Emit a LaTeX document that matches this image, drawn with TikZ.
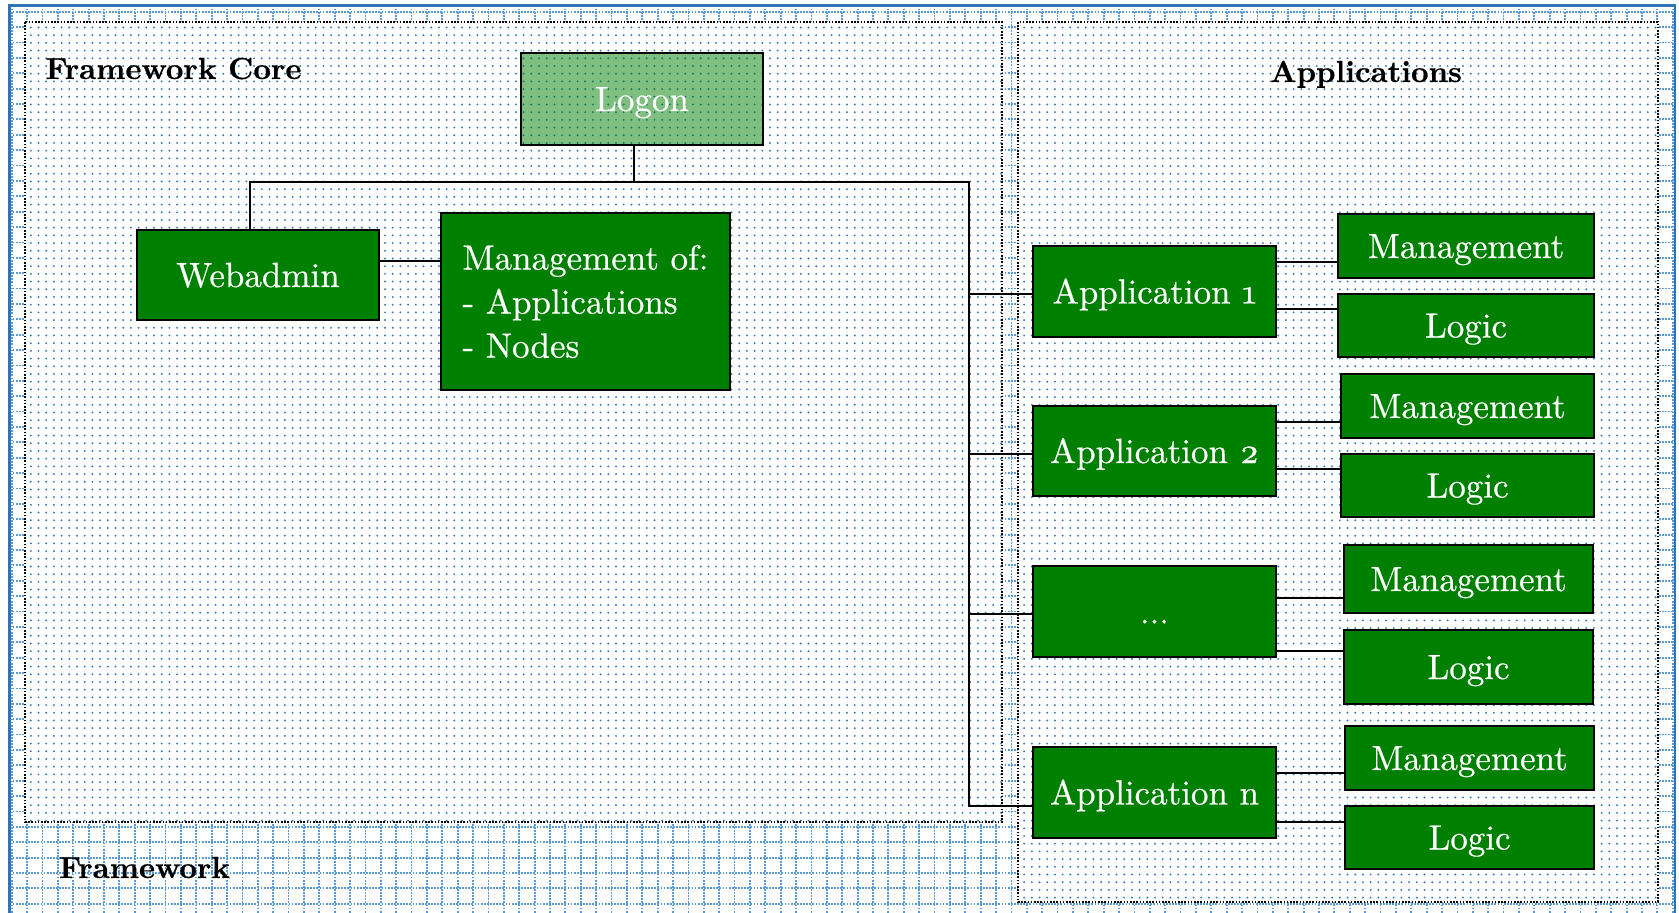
\documentclass[tikz,border=0pt]{standalone}
\usepackage{fontspec}
\newfontfamily\boxfont{lmroman10-regular}[Extension=.otf, FakeBold=0.5]
\newfontfamily\titlefont{lmroman10-bold}[Extension=.otf, FakeBold=0.4]
\newcommand\osn[1]{{\addfontfeatures{Numbers=OldStyle}#1}}
\usetikzlibrary{patterns.meta}
\definecolor{gr}{RGB}{0,128,0}
\definecolor{gridblue}{RGB}{91,155,213}
\definecolor{dotblue}{RGB}{60,125,190}
\definecolor{frameblue}{RGB}{46,117,182}
\pgfdeclarepattern{
  name=bluedots,
  type=uncolored,
  bottom left={\pgfpoint{-1.3pt}{-1.3pt}},
  top right={\pgfpoint{1.3pt}{1.3pt}},
  tile size={\pgfpoint{7.7pt}{7.7pt}},
  code={\pgfpathcircle{\pgfpointorigin}{1.1pt}\pgfusepath{fill}}
}
\tikzset{
  gridline/.style={gridblue, line width=1.8pt, dash pattern=on 1.8pt off 1.3pt},
  frameline/.style={frameblue, line width=2.5pt},
  regionbox/.style={preaction={fill=white}, pattern=bluedots, pattern color=dotblue,
    draw=black, line width=2pt, dash pattern=on 1.6pt off 1.6pt},
  gbox/.style={draw=black, line width=2.6pt, fill=gr, text=white, inner sep=0pt,
    font=\boxfont\fontsize{35}{44}\selectfont},
  one/.style={text height=24pt, text depth=0pt},
  lbox/.style={gbox, fill opacity=0.5, text opacity=1, draw opacity=1},
  conn/.style={draw=black, line width=2pt},
  title/.style={font=\titlefont\fontsize{30.5}{36}\selectfont, anchor=base, inner sep=0pt}
}
\begin{document}
\begin{tikzpicture}[x=1pt,y=-1pt]
\useasboundingbox (0,0) rectangle (1679,913);
\begin{scope}
  \clip (0,0) rectangle (1679,913);
  \fill[white] (0,0) rectangle (1679,913);
  \foreach \i in {0,...,108} \draw[gridline] ({11.7+\i*15.38},5.5) -- ({11.7+\i*15.38},920);
  \foreach \i in {0,...,59} \draw[gridline] (9.5,{11.7+\i*15.38}) -- (1675,{11.7+\i*15.38});
  \draw[frameline] (9.5,920) -- (9.5,5.5) -- (1675,5.5) -- (1675,920);
\end{scope}

% regions
\path[regionbox] (25,22) rectangle (1002,822);
\path[regionbox] (1018,22) rectangle (1658,902);

\node[title] (tcore) at (173.5,79) {Framework Core};
\node[title] (tapps) at (1366,82) {Applications};
\node[title] (tfw) at (144.5,878) {Framework};

% nodes
\node[lbox, one, minimum width=242pt, minimum height=92pt] (logon) at (642,99) {Logon};
\node[gbox, one, minimum width=242pt, minimum height=90pt] (web) at (258,275) {Webadmin};
\node[gbox, align=left, minimum width=289pt, minimum height=177pt] (mgmt) at (585.5,301.5) {Management of:\\- Applications\\- Nodes};

\node[gbox, one, minimum width=243pt, minimum height=91pt] (app1) at (1154.5,291.5) {Application \osn{1}};
\node[gbox, one, minimum width=243pt, minimum height=90pt] (app2) at (1154.5,451) {Application \osn{2}};
\node[gbox, one, minimum width=243pt, minimum height=91pt] (appd) at (1154.5,611.5) {...};
\node[gbox, one, minimum width=243pt, minimum height=91pt] (appn) at (1154.5,792.5) {Application n};

\node[gbox, one, minimum width=256pt, minimum height=64pt] (m1) at (1466,246) {Management};
\node[gbox, one, minimum width=256pt, minimum height=63pt] (l1) at (1466,325.5) {Logic};
\node[gbox, one, minimum width=253pt, minimum height=64pt] (m2) at (1467.5,406) {Management};
\node[gbox, one, minimum width=253pt, minimum height=63pt] (l2) at (1467.5,485.5) {Logic};
\node[gbox, one, minimum width=249pt, minimum height=68pt] (m3) at (1468.5,579) {Management};
\node[gbox, one, minimum width=249pt, minimum height=74pt] (l3) at (1468.5,667) {Logic};
\node[gbox, one, minimum width=249pt, minimum height=64pt] (m4) at (1469.5,758) {Management};
\node[gbox, one, minimum width=249pt, minimum height=63pt] (l4) at (1469.5,837.5) {Logic};

% connector coordinates
\coordinate (lg) at (633.5,182);
\coordinate (busL) at (249.5,182);
\coordinate (busR) at (969,182);
\coordinate (busB) at (969,806);
\coordinate (c1) at (969,294);
\coordinate (c2) at (969,454);
\coordinate (c3) at (969,614);
\coordinate (wm) at (0,261);
\coordinate (y1a) at (0,262);
\coordinate (y1b) at (0,309);
\coordinate (y2a) at (0,422);
\coordinate (y2b) at (0,469);
\coordinate (y3a) at (0,598);
\coordinate (y3b) at (0,651);
\coordinate (y4a) at (0,773);
\coordinate (y4b) at (0,822);

\draw[conn] (logon.south -| lg) -- (lg);
\draw[conn] (web.north -| busL) -- (busL) -- (busR) -- (busB) -- (appn.west |- busB);
\draw[conn] (c1) -- (app1.west |- c1);
\draw[conn] (c2) -- (app2.west |- c2);
\draw[conn] (c3) -- (appd.west |- c3);
\draw[conn] (web.east |- wm) -- (mgmt.west |- wm);
\draw[conn] (app1.east |- y1a) -- (m1.west |- y1a);
\draw[conn] (app1.east |- y1b) -- (l1.west |- y1b);
\draw[conn] (app2.east |- y2a) -- (m2.west |- y2a);
\draw[conn] (app2.east |- y2b) -- (l2.west |- y2b);
\draw[conn] (appd.east |- y3a) -- (m3.west |- y3a);
\draw[conn] (appd.east |- y3b) -- (l3.west |- y3b);
\draw[conn] (appn.east |- y4a) -- (m4.west |- y4a);
\draw[conn] (appn.east |- y4b) -- (l4.west |- y4b);
\end{tikzpicture}
\end{document}
